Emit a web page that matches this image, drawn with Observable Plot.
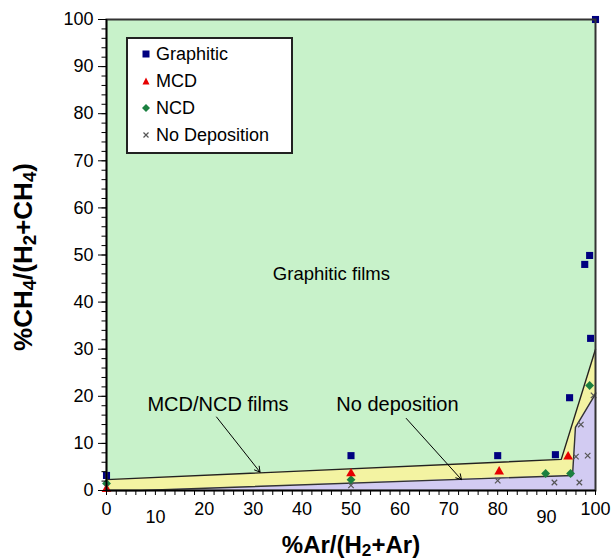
<!DOCTYPE html>
<html>
<head>
<meta charset="utf-8">
<script src="https://cdn.jsdelivr.net/npm/d3@7"></script>
<script src="https://cdn.jsdelivr.net/npm/@observablehq/plot@0.6"></script>
<style>
  body { margin: 0; background: white; font-family: "Liberation Sans", Arial, sans-serif; }
  #wrap { position: relative; width: 612px; height: 560px; overflow: hidden; }
  #wrap svg.plot { position: absolute; left: 0; top: 0; }
  .ttl { position: absolute; font-weight: bold; color: black; white-space: nowrap; line-height: 1; }
  .ttl sub { font-size: 0.72em; vertical-align: -0.2em; line-height: 0; }
  #legend { position: absolute; left: 126px; top: 37px; width: 163px; height: 113px; border: 2px solid #222; background: white; }
  .li { position: absolute; left: 0; font-size: 18px; line-height: 18px; }
  .li svg { position: absolute; left: 12px; top: 3px; }
  .li span { position: absolute; left: 28px; top: 0; white-space: nowrap; }
</style>
</head>
<body>
<div id="wrap"></div>
<script>
// Data
const graphiticX = [0, 50, 80, 91.8, 94.7, 97.8, 98.8, 99.0, 100];
const graphiticY = [3.2, 7.4, 7.4, 7.6, 19.7, 48, 49.9, 32.3, 100];
const mcdX = [0, 50, 80.3, 94.4];
const mcdY = [0.3, 3.6, 4.0, 7.2];
const ncdX = [0, 50, 89.8, 94.9, 98.8];
const ncdY = [1.5, 2.3, 3.6, 3.6, 22.3];
const noDepX = [50, 80, 91.6, 96.7, 96.0, 98.4, 97.0, 99.6];
const noDepY = [1.1, 2.1, 1.7, 1.7, 7.2, 7.4, 14.0, 20.2];

// Region boundaries
const upperX = [0, 93, 100];
const upperY = [2.3, 6.6, 30];
const lowerX = [0, 7, 95.3, 95.9, 100];
const lowerY = [0, 0, 3.2, 13.4, 20.5];

// Annotations
const labelText = ["Graphitic films", "MCD/NCD films", "No deposition"];
const labelSize = [18.5, 20, 20];
const labelX = [46, 22.8, 59.5];
const labelY = [46, 18.2, 18.2];
const arrowX1 = [22.5, 61.3];
const arrowY1 = [15.6, 15.3];
const arrowX2 = [31.4, 72.6];
const arrowY2 = [3.9, 2.3];

const majorTicks = d3.range(0, 101, 10);
const minorTicks = d3.range(0, 101, 2);
const xLabelsMain = [0, 20, 30, 40, 50, 60, 70, 80, 100];
const xLabelsLow = [10, 90];

const pts = (xs, ys) => xs.map((x, i) => ({x, y: ys[i]}));
const upper = pts(upperX, upperY);
const lower = pts(lowerX, lowerY);
const labels = labelText.map((t, i) => ({t, x: labelX[i], y: labelY[i], s: labelSize[i]}));
const arrows = arrowX1.map((x1, i) => ({x1, y1: arrowY1[i], x2: arrowX2[i], y2: arrowY2[i]}));

const C = {green: "#c8f2ca", yellow: "#f3f3a2", purple: "#d2cbf2",
           navy: "#000080", red: "#e60000", dgreen: "#1b8040", gray: "#555"};

const plot = Plot.plot({
  width: 612, height: 560,
  marginLeft: 106, marginRight: 17, marginTop: 19, marginBottom: 70,
  x: {domain: [0, 100]},
  y: {domain: [0, 100]},
  style: {fontFamily: "'Liberation Sans', Arial, sans-serif", fontSize: "18px", color: "black", background: "transparent", overflow: "visible"},
  marks: [
    Plot.frame({fill: C.green}),
    Plot.areaY(upper, {x: "x", y: "y", fill: C.yellow}),
    Plot.areaY(lower, {x: "x", y: "y", fill: C.purple}),
    Plot.line(upper, {x: "x", y: "y", stroke: "#222", strokeWidth: 1.4}),
    Plot.line(lower, {x: "x", y: "y", stroke: "#333", strokeWidth: 1.4}),
    ...labels.map(l => Plot.text([l], {x: "x", y: "y", text: "t", fontSize: l.s, fill: "black"})),
    Plot.arrow(arrows, {x1: "x1", y1: "y1", x2: "x2", y2: "y2", stroke: "black", strokeWidth: 1, headLength: 9}),
    Plot.dot(pts(noDepX, noDepY), {x: "x", y: "y", symbol: "times", r: 2.6, stroke: C.gray, strokeWidth: 1.2}),
    Plot.dot(pts(ncdX, ncdY), {x: "x", y: "y", symbol: "diamond2", r: 4.0, fill: C.dgreen}),
    Plot.dot(pts(mcdX, mcdY), {x: "x", y: "y", symbol: "triangle", r: 3.6, fill: C.red}),
    Plot.dot(pts(graphiticX, graphiticY), {x: "x", y: "y", symbol: "square", r: 4.0, fill: C.navy}),
    Plot.frame({stroke: "#333", strokeWidth: 2}),
    Plot.ruleX([0], {stroke: "black", strokeWidth: 1.5}),
    Plot.ruleY([0], {stroke: "black", strokeWidth: 1.5}),
    Plot.axisY({ticks: minorTicks, tickSize: 4.5, tickFormat: () => "", label: null, stroke: "black"}),
    Plot.axisY({ticks: majorTicks, tickSize: 8, tickPadding: 5, label: null, stroke: "black", fontSize: 18}),
    Plot.axisX({ticks: minorTicks, tickSize: 5, tickFormat: () => "", label: null, stroke: "black"}),
    Plot.axisX({ticks: xLabelsMain, tickSize: 0, tickPadding: 12, label: null, fontSize: 18}),
    Plot.axisX({ticks: xLabelsLow, tickSize: 0, tickPadding: 20, label: null, fontSize: 18})
  ]
});
plot.classList.add("plot");
const wrap = document.getElementById("wrap");
wrap.appendChild(plot);

// Axis titles
const xt = document.createElement("div");
xt.className = "ttl";
xt.style.fontSize = "24px";
xt.innerHTML = "%Ar/(H<sub>2</sub>+Ar)";
wrap.appendChild(xt);
const xr = xt.getBoundingClientRect();
xt.style.left = (351 - xr.width / 2) + "px";
xt.style.top = (545 - xr.height / 2) + "px";

const yt = document.createElement("div");
yt.className = "ttl";
yt.style.fontSize = "26px";
yt.innerHTML = "%CH<sub>4</sub>/(H<sub>2</sub>+CH<sub>4</sub>)";
wrap.appendChild(yt);
const yr = yt.getBoundingClientRect();
yt.style.left = (23 - yr.width / 2) + "px";
yt.style.top = (257 - yr.height / 2) + "px";
yt.style.transform = "rotate(-90deg)";

// Legend
const legendNames = ["Graphitic", "MCD", "NCD", "No Deposition"];
const legendSvgs = [
  `<svg width="12" height="12"><rect x="2.5" y="2.5" width="7" height="7" fill="${C.navy}"/></svg>`,
  `<svg width="12" height="12"><path d="M6,2.5 L9.5,9.5 L2.5,9.5 Z" fill="${C.red}"/></svg>`,
  `<svg width="12" height="12"><path d="M6,2 L10,6 L6,10 L2,6 Z" fill="${C.dgreen}"/></svg>`,
  `<svg width="12" height="12"><path d="M3.5,3.5 L8.5,8.5 M8.5,3.5 L3.5,8.5" stroke="${C.gray}" stroke-width="1.2"/></svg>`
];
const legend = document.createElement("div");
legend.id = "legend";
legend.innerHTML = legendNames.map((n, i) =>
  `<div class="li" style="top:${6 + i * 27}px">${legendSvgs[i]}<span>${n}</span></div>`).join("");
wrap.appendChild(legend);
</script>
</body>
</html>
